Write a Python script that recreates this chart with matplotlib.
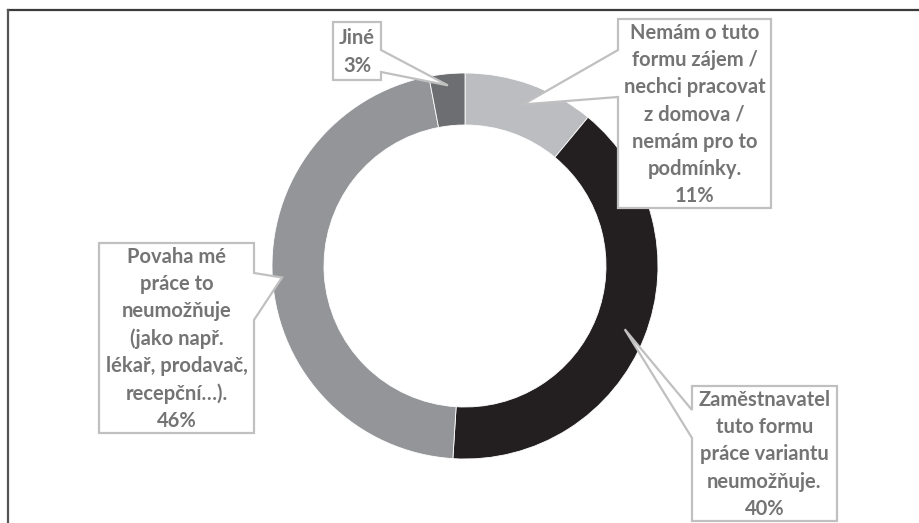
import numpy as np
import matplotlib
matplotlib.use("Agg")
import matplotlib.pyplot as plt
from matplotlib.patches import Polygon
from matplotlib.lines import Line2D

# ---- data ----
categories = [
    "Nemám o tuto\nformu zájem /\nnechci pracovat\nz domova /\nnemám pro to\npodmínky.",
    "Zaměstnavatel\ntuto formu\npráce variantu\nneumožňuje.",
    "Povaha mé\npráce to\nneumožňuje\n(jako např.\nlékař, prodavač,\nrecepční…).",
    "Jiné",
]
values = [11, 40, 46, 3]
colors = ["#bcbdc0", "#231f20", "#939598", "#6d6e71"]

W, H = 920, 523
fig = plt.figure(figsize=(W / 100, H / 100), dpi=100)
ax = fig.add_axes([0, 0, 1, 1])

def P(x, y):
    return (x, H - y)

cx, cy = 465, 266
R = 193
ring = 52
wedges, _ = ax.pie(values, colors=colors, startangle=90, counterclock=False,
                   radius=R, center=P(cx, cy),
                   wedgeprops=dict(width=ring, edgecolor="white", linewidth=0.6))
ax.set_xlim(0, W)
ax.set_ylim(0, H)
ax.set_aspect("equal")
ax.axis("off")

# box layout: (x0, y0, x1, y1, side, s0, s1, radial fraction)
boxes = [
    (618, 19, 771, 208, "left", 50, 97, 0.89),
    (692, 386, 837, 521, "left", 410, 438, 0.89),
    (99, 243, 254, 433, "right", 273, 320, 0.95),
    (333, 22, 381, 80, "right", 50, 72, 0.94),
]

total = sum(values)
start = 90.0
text_color = "#747474"
edge_color = "#c0c0c0"
for val, lab, (x0, y0, x1, y1, side, s0, s1, rf) in zip(values, categories, boxes):
    span = 360.0 * val / total
    mid = np.deg2rad(start - span / 2)
    start -= span
    tip = (cx + rf * R * np.cos(mid), cy - rf * R * np.sin(mid))
    if side == "left":
        pts = [(x0, y0), (x1, y0), (x1, y1), (x0, y1), (x0, s1), tip, (x0, s0)]
    else:
        pts = [(x0, y0), (x1, y0), (x1, s0), tip, (x1, s1), (x1, y1), (x0, y1)]
    poly = Polygon([P(*p) for p in pts], closed=True, facecolor="white",
                   edgecolor=edge_color, linewidth=1.6, zorder=5, joinstyle="miter")
    ax.add_patch(poly)
    ax.text(*P((x0 + x1) / 2, (y0 + y1) / 2 + 1), f"{lab}\n{val}%", ha="center", va="center",
            fontsize=14.5, fontweight="bold", family=["Lato", "DejaVu Sans"],
            color=text_color, linespacing=1.45, zorder=6)

# chart frame (top and left edges)
fig.add_artist(Line2D([8 / W, 1], [1 - 10 / H, 1 - 10 / H], color="#3a3a3a", lw=1.6))
fig.add_artist(Line2D([8 / W, 8 / W], [0, 1 - 10 / H], color="#555555", lw=1.6))

fig.savefig("out.png", dpi=100, facecolor="white")
